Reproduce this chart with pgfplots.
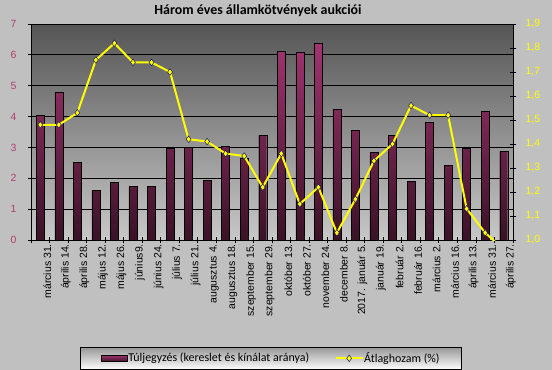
\documentclass[border=0pt]{standalone}
\usepackage{fontspec}
\setmainfont{Carlito}
\newfontfamily\arial{Liberation Sans}
\usepackage{pgfplots}
\usepackage{pgfplotstable}
\pgfplotsset{compat=1.18}
\definecolor{bgc}{RGB}{192,192,192}
\definecolor{bartop}{RGB}{162,52,112}
\definecolor{barbot}{RGB}{58,18,38}
\definecolor{leftlab}{RGB}{176,60,110}
\definecolor{navym}{RGB}{20,20,110}
\definecolor{yel}{RGB}{255,255,0}
\pgfplotsset{
  mylegline/.style={legend image code/.code={\draw[mark repeat=2,mark phase=2,##1] plot coordinates {(0bp,0bp) (13.5bp,0bp) (27bp,0bp)};}},
  mylegbar/.style={legend image code/.code={\draw[draw=black, line width=0.4bp, top color=bartop, bottom color=barbot] (0bp,-3.3bp) rectangle (26bp,3.3bp);}},
}

\pgfplotstableread{
x bar yield
1 4.03 1.48
2 4.79 1.48
3 2.51 1.53
4 1.60 1.75
5 1.86 1.82
6 1.73 1.74
7 1.73 1.74
8 2.97 1.70
9 3.00 1.42
10 1.93 1.41
11 3.03 1.36
12 2.66 1.35
13 3.39 1.22
14 6.11 1.36
15 6.08 1.15
16 6.38 1.22
17 4.24 1.03
18 3.55 1.17
19 2.84 1.33
20 3.39 1.40
21 1.89 1.56
22 3.81 1.52
23 2.41 1.52
24 2.98 1.13
25 4.17 1.03
26 2.87 0.96
}\datatable

\begin{document}
\begin{tikzpicture}
\useasboundingbox (0,0) rectangle (552bp,370bp);
\fill[bgc] (0,0) rectangle (552bp,370bp);
\clip (0,0) rectangle (552bp,370bp);
\node[font=\bfseries\fontsize{14}{16}\selectfont, anchor=base] at (258bp,355bp) {Három éves államkötvények aukciói};
\begin{axis}[
  at={(31bp,130bp)}, anchor=south west,
  scale only axis, width=482bp, height=216bp,
  xmin=0.5, xmax=26.5, ymin=0, ymax=7,
  axis x line*=bottom, axis y line*=left,
  axis line style={-, black, line width=0.8bp},
  axis background/.style={top color={rgb,255:red,85;green,85;blue,85}, bottom color={rgb,255:red,200;green,200;blue,200}},
  ytick={0,1,2,3,4,5,6,7},
  ymajorgrids, major grid style={black, line width=0.8bp},
  xtick={0.5,1.5,...,26.5},
  x tick label as interval,
  xticklabels={március 31.,április 14.,április 28.,május 12.,május 26.,június9.,június 24.,július 7.,július 21.,augusztus 4.,augusztus 18.,szeptember 15.,szeptember 29.,október 13.,október 27.,november 24.,december 8.,2017. január 5.,január 19.,február 2.,február 16.,március 2.,március 16.,április 13.,március 31.,április 27.},
  tick align=center, major tick length=6bp,
  tick style={black, line width=0.8bp},
  xticklabel style={rotate=90, anchor=east, font=\arial\fontsize{10.5}{12}\selectfont, inner sep=1bp, yshift=-7bp},
  yticklabel style={font=\arial\fontsize{10.5}{12}\selectfont, text=leftlab, xshift=-8bp},
  /pgf/number format/assume math mode=true,
]
\addplot[ybar, bar width=8bp, draw=black, line width=0.4bp, top color=bartop, bottom color=barbot] table[x=x,y=bar]{\datatable};
\end{axis}
\begin{axis}[
  at={(31bp,130bp)}, anchor=south west,
  scale only axis, width=482bp, height=216bp,
  xmin=0.5, xmax=26.5, ymin=1, ymax=1.9,
  axis x line=none, axis y line*=right,
  axis line style={-, black, line width=0.8bp},
  ytick={1.0,1.1,1.2,1.3,1.4,1.5,1.6,1.7,1.8,1.9},
  tick align=center, major tick length=6bp,
  tick style={black, line width=0.8bp},
  yticklabel style={/pgf/number format/.cd, fixed, fixed zerofill, precision=1, use comma, /tikz/.cd, font=\arial\fontsize{10.5}{12}\selectfont, text=yel, xshift=6bp},
  /pgf/number format/assume math mode=true,
  legend style={at={(0.1017,-0.494)}, anchor=north west, draw=black, line width=0.8bp,
    top color={rgb,255:red,150;green,150;blue,150}, middle color=white, bottom color=white,
    legend columns=2, font=\fontsize{12}{14}\selectfont,
    inner xsep=21bp, inner ysep=5bp,
    nodes={inner sep=0.5bp},
    /tikz/every even column/.append style={column sep=25bp}},
  legend cell align=left,
]
\addlegendimage{mylegbar}
\addlegendentry{Túljegyzés (kereslet és kínálat aránya)}
\addplot[yel, line width=2bp, mark=diamond*, mark size=3.3bp,
  mark options={fill=yel, draw=navym, line width=0.5bp}, mylegline]
  table[x=x,y=yield]{\datatable};
\addlegendentry{Átlaghozam (\%)}
\end{axis}
\end{tikzpicture}
\end{document}
